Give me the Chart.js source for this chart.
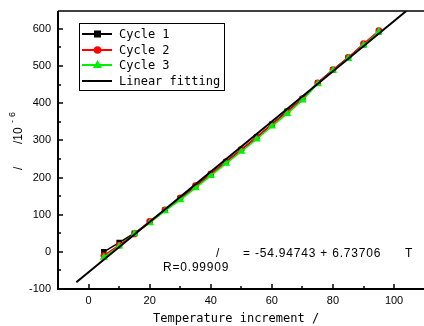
<!DOCTYPE html>
<html><head><meta charset="utf-8">
<script src="https://cdn.jsdelivr.net/npm/chart.js@4/dist/chart.umd.min.js"></script>
<style>html,body{margin:0;padding:0;background:#fff;overflow:hidden}#w{width:424px;height:326px;position:relative}</style>
</head><body><div id="w"><canvas id="c"></canvas></div>
<script>
const temps = [5,10,15,20,25,30,35,40,45,50,55,60,65,70,75,80,85,90,95];
const cycle1 = [0,25,50,80,112,143,176,208,242,275,308,343,378,412,455,490,522,557,592];
const cycle2 = [-10,18,48,82,113,145,178,210,243,276,309,343,376,412,455,490,523,560,595];
const cycle3 = [-15,15,48,78,110,140,172,205,238,270,303,338,372,408,452,488,520,556,592];
const fitX = [-4, 104];
const fitY = [-82, 648];
const xTicks = [0,20,40,60,80,100];
const yTicks = [-100,0,100,200,300,400,500,600];
const legendLabels = ['Cycle 1','Cycle 2','Cycle 3','Linear fitting'];

const pts = (xs, ys) => xs.map((x,i)=>({x:x,y:ys[i]}));

const deco = {
  id:'deco',
  afterDraw(chart){
    const ctx = chart.ctx, a = chart.chartArea;
    const xs = chart.scales.x, ys = chart.scales.y;
    ctx.save();
    ctx.strokeStyle = '#000';
    // frame
    ctx.lineWidth = 2;
    ctx.beginPath();
    ctx.moveTo(a.left, a.top); ctx.lineTo(a.left, a.bottom); ctx.lineTo(chart.width, a.bottom);
    ctx.stroke();
    ctx.lineWidth = 1.5;
    ctx.beginPath(); ctx.moveTo(a.left, a.top); ctx.lineTo(chart.width, a.top); ctx.stroke();
    // ticks inward
    ctx.lineWidth = 1.5;
    for (let v = -100; v <= 650; v += 50) {
      const y = Math.round(ys.getPixelForValue(v));
      if (y < a.top || y > a.bottom) continue;
      const len = (v % 100 === 0) ? 5 : 3;
      ctx.beginPath(); ctx.moveTo(a.left, y); ctx.lineTo(a.left + len, y); ctx.stroke();
    }
    for (let v = 0; v <= 100; v += 10) {
      const x = Math.round(xs.getPixelForValue(v));
      const len = (v % 20 === 0) ? 5 : 3;
      ctx.beginPath(); ctx.moveTo(x, a.bottom); ctx.lineTo(x, a.bottom - len); ctx.stroke();
    }
    // legend
    ctx.lineWidth = 1;
    ctx.strokeRect(79.5, 23.5, 145, 67);
    const cols = ['#000','#ff0000','#00ee00','#000'];
    const rowsY = [34, 50, 65, 81];
    ctx.font = '12px "DejaVu Sans Mono"';
    ctx.textBaseline = 'middle';
    ctx.fillStyle = '#000';
    for (let i = 0; i < 4; i++) {
      const y = rowsY[i];
      ctx.strokeStyle = cols[i]; ctx.lineWidth = 2;
      ctx.beginPath(); ctx.moveTo(82, y); ctx.lineTo(112, y); ctx.stroke();
      ctx.fillStyle = cols[i];
      if (i === 0) ctx.fillRect(94, y - 3.5, 7, 7);
      if (i === 1) { ctx.beginPath(); ctx.arc(97.5, y, 3.8, 0, Math.PI*2); ctx.fill(); }
      if (i === 2) { ctx.beginPath(); ctx.moveTo(97.5, y-5); ctx.lineTo(102, y+3); ctx.lineTo(93, y+3); ctx.closePath(); ctx.fill(); }
      ctx.fillStyle = '#000';
      ctx.fillText(legendLabels[i], 119, y + 1);
    }
    // equation
    ctx.font = '12px "Liberation Sans"';
    ctx.letterSpacing = '0.8px';
    ctx.fillText('/', 216, 254);
    ctx.fillText('= -54.94743 + 6.73706', 243, 254);
    ctx.fillText('T', 405, 254);
    ctx.fillText('R=0.99909', 163, 268);
    // x title
    ctx.letterSpacing = '0px';
    ctx.font = '12px "DejaVu Sans Mono"';
    ctx.textAlign = 'left';
    ctx.fillText('Temperature increment /', 153, 319);
    // y title
    ctx.font = '12px "Liberation Sans"';
    ctx.translate(19, 0);
    ctx.rotate(-Math.PI/2);
    ctx.fillText('/', -170, 0);
    ctx.fillText('/10', -144, 0);
    ctx.font = '9px "Liberation Sans"';
    ctx.fillText('-', -123, -6);
    ctx.fillText('6', -117, -6);
    ctx.restore();
  }
};

new Chart(document.getElementById('c'), {
  type: 'scatter',
  data: {
    datasets: [
      {label:'Cycle 1', data: pts(temps, cycle1), showLine:true, borderColor:'#000', backgroundColor:'#000', borderWidth:1.5, pointStyle:'rect', pointRadius:2.8, order:3},
      {label:'Cycle 2', data: pts(temps, cycle2), showLine:true, borderColor:'#ff0000', backgroundColor:'#ff0000', borderWidth:1.5, pointStyle:'circle', pointRadius:2.6, order:2},
      {label:'Cycle 3', data: pts(temps, cycle3), showLine:true, borderColor:'#00ee00', backgroundColor:'#00ee00', borderWidth:1.5, pointStyle:'triangle', pointRadius:3.2, order:1},
      {label:'Linear fitting', data: pts(fitX, fitY), showLine:true, borderColor:'#000', backgroundColor:'#000', borderWidth:2, pointRadius:0, order:0}
    ]
  },
  options: {
    responsive: true, maintainAspectRatio: false, animation: false,
    layout: {padding: {top: 11, right: 0, left: 0, bottom: 0}},
    plugins: {legend: {display:false}, tooltip: {enabled:false}},
    scales: {
      x: {type:'linear', min:-10, max:108, grid:{display:false, drawTicks:false}, border:{display:false},
          afterBuildTicks: s => { s.ticks = xTicks.map(v=>({value:v})); },
          afterFit: s => { s.height = 37; s.paddingLeft = 0; s.paddingRight = 0; },
          ticks:{font:{family:'"Liberation Sans"', size:11}, color:'#000', padding:5, maxRotation:0}},
      y: {type:'linear', min:-100, max:648, grid:{display:false, drawTicks:false}, border:{display:false},
          afterBuildTicks: s => { s.ticks = yTicks.map(v=>({value:v})); },
          afterFit: s => { s.width = 58; s.paddingTop = 0; s.paddingBottom = 0; },
          ticks:{font:{family:'"Liberation Sans"', size:11}, color:'#000', padding:7}}
    }
  },
  plugins: [deco]
});
</script></body></html>
